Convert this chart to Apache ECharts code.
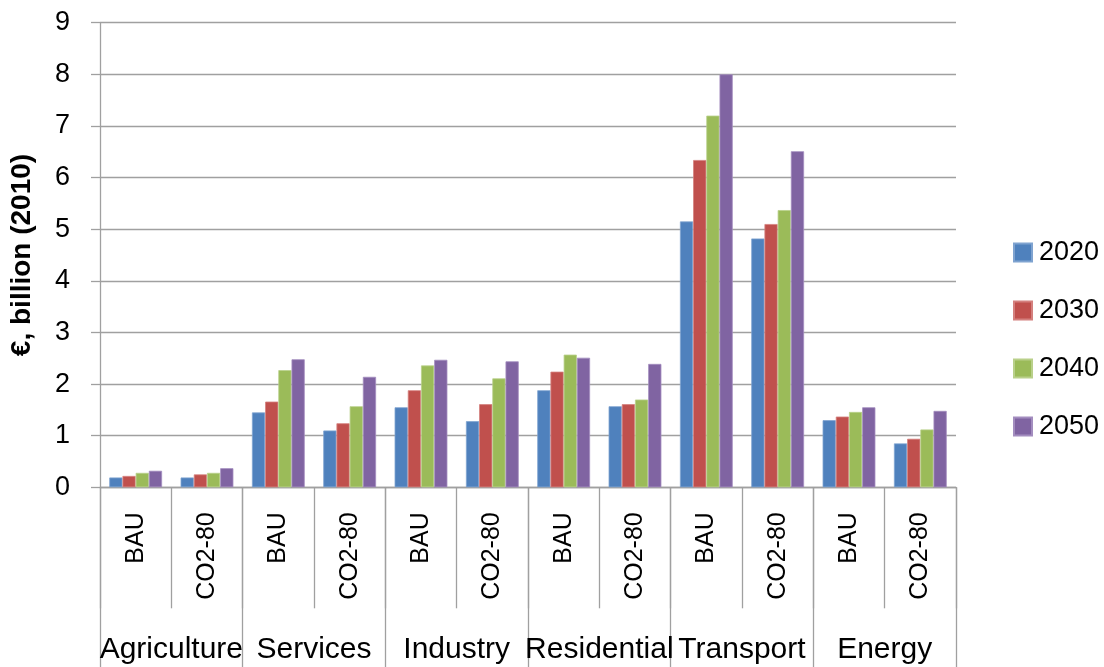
<!DOCTYPE html>
<html>
<head>
<meta charset="utf-8">
<script src="https://cdn.jsdelivr.net/npm/echarts@6/dist/echarts.min.js"></script>
<style>html,body{margin:0;padding:0;background:#fff}#c{width:1104px;height:667px}</style>
</head>
<body>
<div id="c"></div>
<script>
const scenarios = ['BAU','CO2-80','BAU','CO2-80','BAU','CO2-80','BAU','CO2-80','BAU','CO2-80','BAU','CO2-80'];
const sectors = ['Agriculture','Services','Industry','Residential','Transport','Energy'];
const years = ['2020','2030','2040','2050'];
const v2020 = [0.19, 0.19, 1.45, 1.10, 1.55, 1.28, 1.88, 1.57, 5.15, 4.82, 1.30, 0.85];
const v2030 = [0.22, 0.25, 1.66, 1.24, 1.88, 1.61, 2.24, 1.61, 6.34, 5.10, 1.37, 0.94];
const v2040 = [0.28, 0.28, 2.27, 1.57, 2.36, 2.11, 2.57, 1.70, 7.20, 5.37, 1.46, 1.12];
const v2050 = [0.32, 0.37, 2.48, 2.14, 2.47, 2.44, 2.51, 2.39, 8.00, 6.51, 1.55, 1.48];
const yTicks = [0,1,2,3,4,5,6,7,8,9];

const colors = ['#4F81BD','#C0504D','#9BBB59','#8064A2'];
const borders = ['#7fa3d0','#d4807e','#b9d08a','#a38dbf'];
const values = [v2020, v2030, v2040, v2050];
const FONT = 'Liberation Sans';

const chart = echarts.init(document.getElementById('c'), null, {renderer:'canvas'});
chart.setOption({
  animation: false,
  backgroundColor: '#fff',
  textStyle: {fontFamily: FONT, color: '#000'},
  color: colors,
  grid: {left: 100, right: 148, top: 22.7, bottom: 179.7, containLabel: false},
  legend: {
    orient: 'vertical', left: 1008, top: 234,
    itemWidth: 18, itemHeight: 18, itemGap: 31,
    icon: 'rect',
    textStyle: {fontFamily: FONT, fontSize: 27, color: '#000', padding: [0,0,0,2]},
    data: years
  },
  xAxis: [{
    type: 'category', data: scenarios, position: 'bottom',
    axisLine: {show: true, lineStyle: {color: '#a0a0a0', width: 1.3}},
    axisTick: {show: true, length: 121, interval: 0, lineStyle: {color: '#a0a0a0', width: 1.3}},
    axisLabel: {interval: 0, rotate: 90, margin: 25, fontSize: 25, color: '#000', fontFamily: FONT}
  },{
    type: 'category', data: sectors, position: 'bottom',
    axisLine: {show: false},
    axisTick: {show: true, length: 181, interval: 0, lineStyle: {color: '#a0a0a0', width: 1.3}},
    axisLabel: {interval: 0, margin: 147, fontSize: 30, color: '#000', fontFamily: FONT}
  }],
  yAxis: {
    type: 'value', min: 0, max: 9, interval: 1,
    name: '€, billion (2010)', nameLocation: 'middle', nameGap: 64,
    nameTextStyle: {fontFamily: FONT, fontSize: 28, fontWeight: 'bold', color: '#000'},
    axisLine: {show: true, lineStyle: {color: '#a0a0a0', width: 1.3}},
    axisTick: {show: true, length: 9, lineStyle: {color: '#a0a0a0', width: 1.3}},
    splitLine: {show: true, lineStyle: {color: '#a0a0a0', width: 1.3}},
    axisLabel: {margin: 30, fontSize: 27, color: '#000', fontFamily: FONT,
      formatter: v => yTicks.includes(v) ? String(v) : ''}
  },
  series: years.map((y, i) => ({
    name: y, type: 'bar', xAxisIndex: 0, yAxisIndex: 0,
    data: values[i], barGap: '0%', barCategoryGap: '26%',
    itemStyle: {color: colors[i], borderColor: borders[i], borderWidth: 0.8}
  }))
});
</script>
</body>
</html>
